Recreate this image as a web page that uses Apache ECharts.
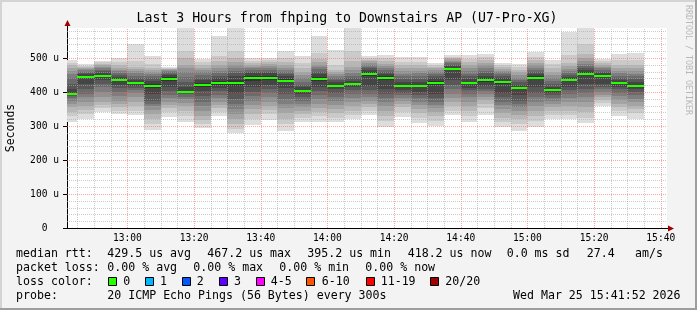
<!DOCTYPE html>
<html><head><meta charset="utf-8">
<script src="https://cdn.jsdelivr.net/npm/echarts@6/dist/echarts.min.js"></script>
<style>html,body{margin:0;padding:0;background:#f3f3f3}#c{width:697px;height:310px}</style>
</head><body><div id="c"></div>
<script>
// ---- data ----
const bucketEnds = ['12:45','12:50','12:55','13:00','13:05','13:10','13:15','13:20','13:25','13:30','13:35','13:40',
  '13:45','13:50','13:55','14:00','14:05','14:10','14:15','14:20','14:25','14:30','14:35','14:40','14:45','14:50',
  '14:55','15:00','15:05','15:10','15:15','15:20','15:25','15:30','15:35'];
// median rtt per 5-minute bucket, microseconds
const medians = [395,444,448,435,427,418,438,401,421,427,427,440,442,433,404,438,419,424,454,441,418,418,427,468,
  427,435,429,413,442,406,435,454,447,427,419];
// 20 sorted ping rtts per bucket, microseconds
const pings = [
  [313,330,342,355,366,375,382,388,391,393,397,410,425,440,452,462,470,478,486,494],
  [321,335,347,360,372,385,395,410,425,440,448,452,456,460,464,467,470,473,477,481],
  [340,352,362,372,385,400,415,425,435,445,451,457,462,466,470,474,478,483,488,492],
  [335,345,355,365,375,388,400,412,422,432,438,445,450,456,462,466,470,478,488,499],
  [332,345,360,372,385,398,405,412,418,424,430,436,442,448,455,462,468,475,490,540],
  [288,305,320,335,348,358,366,375,395,412,424,432,440,446,452,458,465,472,482,506],
  [327,340,352,362,372,382,392,402,415,432,444,450,454,458,461,464,467,469,471,474],
  [313,330,345,358,368,378,386,393,397,399,403,415,430,445,458,470,480,500,520,610],
  [295,305,318,330,345,358,372,388,402,416,426,434,442,450,458,465,472,480,488,497],
  [329,340,352,362,372,382,392,402,412,422,432,440,448,455,462,470,478,490,505,565],
  [278,292,305,320,335,350,365,380,398,418,436,446,455,462,470,478,488,500,520,600],
  [303,320,335,350,362,375,388,400,415,433,447,455,460,465,470,475,480,485,492,499],
  [318,335,348,360,372,385,396,408,420,436,448,455,460,465,470,476,482,488,494,499],
  [285,305,322,338,352,366,380,395,412,428,438,446,452,458,464,470,478,488,500,521],
  [313,325,335,345,355,365,375,385,395,401,407,414,422,430,440,450,460,470,485,507],
  [313,328,340,352,365,378,390,402,415,432,444,452,460,467,474,480,488,498,515,566],
  [313,325,338,350,362,374,386,398,408,416,422,428,434,440,446,452,458,466,480,524],
  [320,332,345,358,370,382,394,405,414,421,427,433,440,448,456,465,475,490,520,600],
  [332,345,355,365,375,385,395,405,418,448,460,465,470,475,480,485,490,495,500,506],
  [298,315,330,345,358,370,382,395,410,436,446,452,458,464,470,476,482,490,500,509],
  [326,342,355,366,375,383,390,398,406,414,422,430,438,446,454,462,470,478,488,502],
  [310,325,338,350,362,372,382,390,400,414,422,430,438,446,455,462,470,478,488,502],
  [300,315,328,340,352,362,372,382,395,422,432,440,446,452,458,464,470,475,480,484],
  [332,345,358,370,382,395,408,420,435,465,471,476,480,484,488,492,496,500,504,509],
  [313,330,345,358,372,385,395,405,412,424,430,438,446,454,462,470,478,488,498,509],
  [332,352,365,376,385,394,402,410,418,430,440,448,455,462,470,478,486,494,503,512],
  [298,312,325,338,350,362,372,385,398,425,433,440,446,452,458,463,468,474,479,484],
  [286,305,320,332,345,355,365,375,390,410,416,422,428,435,442,450,458,466,474,481],
  [298,315,330,345,360,372,385,398,415,438,446,452,458,464,470,478,486,494,503,519],
  [320,333,345,355,365,374,382,390,397,403,409,416,424,432,440,450,460,470,482,494],
  [320,332,345,358,370,382,394,405,416,432,438,444,450,456,462,468,476,486,510,577],
  [310,325,340,355,370,385,398,410,425,450,458,464,470,476,482,490,500,512,540,600],
  [359,368,376,384,392,400,408,416,425,444,450,455,460,465,470,475,480,486,492,497],
  [329,343,355,366,377,388,398,408,416,424,430,436,442,448,455,462,470,480,494,512],
  [320,338,350,360,370,380,390,400,410,416,422,430,438,446,454,462,470,480,495,516]
];
const xTickLabels = ['13:00','13:20','13:40','14:00','14:20','14:40','15:00','15:20','15:40'];
const yTickValues = [0,100,200,300,400,500];
const yTickLabels = ['0  ','100 u','200 u','300 u','400 u','500 u'];
const lossLabels = ['0','1','2','3','4-5','6-10','11-19','20/20'];
const lossColors = ['#26ff00','#00b8ff','#0059ff','#5e00ff','#ff00ff','#ff5500','#ff0000','#a10000'];
const titleText = 'Last 3 Hours from fhping to Downstairs AP (U7-Pro-XG)';
const statLine1 = ['median rtt:','429.5 us avg','467.2 us max','395.2 us min','418.2 us now','0.0 ms sd','27.4','am/s'];
const statLine2 = ['packet loss:','0.00 % avg','0.00 % max','0.00 % min','0.00 % now'];
const probeText = ['probe:','20 ICMP Echo Pings (56 Bytes) every 300s','Wed Mar 25 15:41:52 2026'];

// ---- layout / style ----
const toMin = s => { const [h,m] = s.split(':').map(Number); return h*60+m; };
const START = 12*60 + 41 + 52/60, END = START + 180, STEP = 5;
const YMAX = 200/0.34;
const MONO = '"DejaVu Sans Mono", monospace';
const chart = echarts.init(document.getElementById('c'), null, {renderer:'canvas'});

const vLines = [], hLines = [];
for (let m = Math.ceil(START/STEP)*STEP; m < END; m += STEP) vLines.push([m, m % 20 === 0 ? 1 : 0]);
for (let v = 20; v < YMAX; v += 20) hLines.push([v, v % 100 === 0 ? 1 : 0]);

function renderSmoke(params, api) {
  const k = api.value(2);
  const p = pings[k];
  const tEnd = api.value(0);
  const tStart = Math.max(tEnd - STEP, START);
  const xa = Math.round(api.coord([tStart, 0])[0]);
  const xb = Math.round(api.coord([tEnd, 0])[0]);
  const children = [];
  for (let i = 0; i < 10; i++) {
    const hi = Math.min(p[19 - i], YMAX), lo = p[i];
    const ya = Math.round(api.coord([tStart, hi])[1]);
    const yb = Math.round(api.coord([tStart, lo])[1]);
    const g = 19 * (9 - i) + 50;
    children.push({type:'rect', shape:{x:xa, y:ya, width:xb-xa, height:yb-ya}, style:{fill:`rgb(${g},${g},${g})`}});
  }
  return {type:'group', children};
}
function renderMedian(params, api) {
  const tEnd = api.value(0);
  const tStart = Math.max(tEnd - STEP, START);
  const xa = Math.round(api.coord([tStart, 0])[0]);
  const xb = Math.round(api.coord([tEnd, 0])[0]);
  const y = Math.round(api.coord([tEnd, api.value(1)])[1]);
  return {type:'rect', shape:{x:xa, y:y-1, width:xb-xa, height:2}, style:{fill:lossColors[0]}};
}
function renderV(params, api) {
  const x = Math.round(api.coord([api.value(0), 0])[0]) + 0.5;
  const y0 = api.coord([api.value(0), 0])[1], y1 = api.coord([api.value(0), YMAX])[1];
  const major = api.value(1) === 1;
  return {type:'line', shape:{x1:x, y1:y0, x2:x, y2:y1},
    style:{stroke: major ? 'rgba(255,90,90,0.55)' : 'rgba(170,170,170,0.6)', lineWidth:1, lineDash:[1,1]}};
}
function renderH(params, api) {
  const y = Math.round(api.coord([START, api.value(0)])[1]) + 0.5;
  const x0 = api.coord([START, 0])[0], x1 = api.coord([END, 0])[0];
  const major = api.value(1) === 1;
  return {type:'line', shape:{x1:x0, y1:y, x2:x1, y2:y},
    style:{stroke: major ? 'rgba(255,90,90,0.55)' : 'rgba(170,170,170,0.6)', lineWidth:1, lineDash:[1,1]}};
}

const graphics = [];
const txt = (x, y, s, size, extra) => graphics.push(Object.assign({type:'text', x, y, z:100,
  style:{text:s, font:`${size}px ${MONO}`, fill:'#000', verticalAlign:'middle'}}, extra || {}));
// frame
graphics.push({type:'rect', shape:{x:0,y:0,width:697,height:2}, style:{fill:'#d4d4d4'}, z:100});
graphics.push({type:'rect', shape:{x:0,y:0,width:2,height:310}, style:{fill:'#d4d4d4'}, z:100});
graphics.push({type:'rect', shape:{x:695,y:0,width:2,height:310}, style:{fill:'#9e9e9e'}, z:100});
graphics.push({type:'rect', shape:{x:0,y:308,width:697,height:2}, style:{fill:'#9e9e9e'}, z:100});
// title and side text
txt(347, 19, titleText, 13.2, {style:{text:titleText, font:`13.2px ${MONO}`, fill:'#000', align:'center', verticalAlign:'middle'}});
graphics.push({type:'text', x:688, y:60, rotation:-Math.PI/2, z:100,
  style:{text:'RRDTOOL / TOBI OETIKER', font:`8.3px ${MONO}`, fill:'#b8b8b8', align:'center', verticalAlign:'middle'}});
graphics.push({type:'text', x:11, y:128, rotation:Math.PI/2, z:100,
  style:{text:'Seconds', font:`11.5px ${MONO}`, fill:'#000', align:'center', verticalAlign:'middle'}});
// axis extensions and arrows
graphics.push({type:'line', shape:{x1:67.5,y1:28,x2:67.5,y2:23}, style:{stroke:'#000',lineWidth:1}, z:100});
graphics.push({type:'line', shape:{x1:63,y1:228.5,x2:67,y2:228.5}, style:{stroke:'#000',lineWidth:1}, z:100});
graphics.push({type:'line', shape:{x1:667,y1:228.5,x2:670,y2:228.5}, style:{stroke:'#000',lineWidth:1}, z:100});
graphics.push({type:'polygon', shape:{points:[[64.5,26],[70.5,26],[67.5,20]]}, style:{fill:'#a00000'}, z:101});
graphics.push({type:'polygon', shape:{points:[[668,225.5],[668,231.5],[674,228.5]]}, style:{fill:'#a00000'}, z:101});
// legend text
const l1x = [16,107.3,207.3,307.3,407.7,506.7,586.7,635];
statLine1.forEach((s,i) => txt(l1x[i], 254.3, s, 11.6));
const l2x = [16,107.3,193.3,279.3,365.3];
statLine2.forEach((s,i) => txt(l2x[i], 268.3, s, 11.6));
txt(16, 282.3, 'loss color:', 11.6);
const boxX = [108.5,145.5,182.5,219.5,256.5,306.5,366.5,430.5];
const labX = [123.3,160,196.7,234,270.7,321.7,380.7,445.3];
lossLabels.forEach((s,i) => {
  graphics.push({type:'rect', shape:{x:boxX[i], y:277.5, width:8, height:8}, style:{fill:lossColors[i], stroke:'#000', lineWidth:1}, z:100});
  txt(labX[i], 282.3, s, 11.6);
});
txt(16, 296.3, probeText[0], 11.6);
txt(107.3, 296.3, probeText[1], 11.6);
txt(513, 296.3, probeText[2], 11.6);

const bucketData = bucketEnds.map((t,k) => [toMin(t), medians[k], k]);

chart.setOption({
  backgroundColor:'#f3f3f3',
  animation:false,
  grid:{left:67, top:28, width:600, height:200, show:true, backgroundColor:'#ffffff', borderWidth:0},
  xAxis:{type:'value', min:START, max:END,
    axisLine:{show:true, lineStyle:{color:'#000', width:1}},
    axisTick:{show:false}, splitLine:{show:false},
    axisLabel:{customValues: xTickLabels.map(toMin), formatter: v => xTickLabels[xTickLabels.map(toMin).indexOf(Math.round(v))] || '',
      fontFamily:MONO, fontSize:9.6, color:'#000', margin:5}},
  yAxis:{type:'value', min:0, max:YMAX,
    axisLine:{show:true, lineStyle:{color:'#000', width:1}},
    axisTick:{show:true, customValues:yTickValues, length:4, lineStyle:{color:'#000'}},
    splitLine:{show:false},
    axisLabel:{customValues:yTickValues, formatter: v => yTickLabels[yTickValues.indexOf(Math.round(v))] || '',
      fontFamily:MONO, fontSize:9.6, color:'#000', margin:8}},
  graphic: graphics,
  series:[
    {type:'custom', name:'smoke', renderItem:renderSmoke, data:bucketData, z:2, silent:true},
    {type:'custom', name:'vgrid', renderItem:renderV, data:vLines, z:3, silent:true},
    {type:'custom', name:'hgrid', renderItem:renderH, data:hLines, z:3, silent:true, encode:{x:-1, y:0}},
    {type:'custom', name:'median', renderItem:renderMedian, data:bucketData, z:4, silent:true}
  ]
});
</script></body></html>
